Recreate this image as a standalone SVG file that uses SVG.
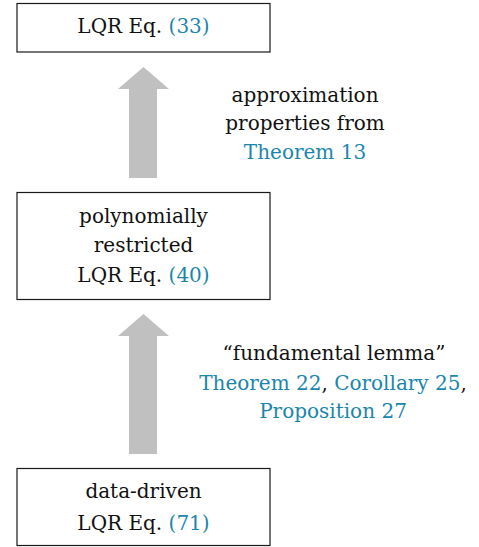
<svg xmlns="http://www.w3.org/2000/svg" width="479" height="547" viewBox="0 0 479 547">
<style>
.box{fill:#fff;stroke:#1a1a1a;stroke-width:1.2}
.t{font-family:"DejaVu Serif","Liberation Serif",serif;font-size:20px;fill:#111;text-anchor:middle}
.b{fill:#1a86ad}
.arr{fill:#c0c0c0}
</style>
<rect width="479" height="547" fill="#fff"/>
<g id="connectors">
<polygon class="arr" points="129,178 129,89 118,89 143.5,67 169,89 157,89 157,178"/>
<polygon class="arr" points="129,454 129,336 118,336 143.5,314 169,336 157,336 157,454"/>
<g id="label1">
<text class="t" x="305" y="102">approximation</text>
<text class="t" x="305" y="130">properties from</text>
<text class="t b" x="305" y="159">Theorem 13</text>
</g>
<g id="label2">
<text class="t" x="334" y="360">“fundamental lemma”</text>
<text class="t" x="333" y="390"><tspan class="b">Theorem 22</tspan>, <tspan class="b">Corollary 25</tspan>,</text>
<text class="t b" x="333" y="418">Proposition 27</text>
</g>
</g>
<g id="node-lqr">
<rect class="box" x="17" y="3.5" width="253" height="48.5"/>
<text class="t" x="143.5" y="33">LQR Eq. <tspan class="b">(33)</tspan></text>
</g>
<g id="node-poly">
<rect class="box" x="17" y="192.5" width="253" height="107"/>
<text class="t" x="143.5" y="223">polynomially</text>
<text class="t" x="143.5" y="252">restricted</text>
<text class="t" x="143.5" y="282">LQR Eq. <tspan class="b">(40)</tspan></text>
</g>
<g id="node-data">
<rect class="box" x="17" y="468.5" width="253" height="77"/>
<text class="t" x="143.5" y="498">data-driven</text>
<text class="t" x="143.5" y="530">LQR Eq. <tspan class="b">(71)</tspan></text>
</g>
</svg>
